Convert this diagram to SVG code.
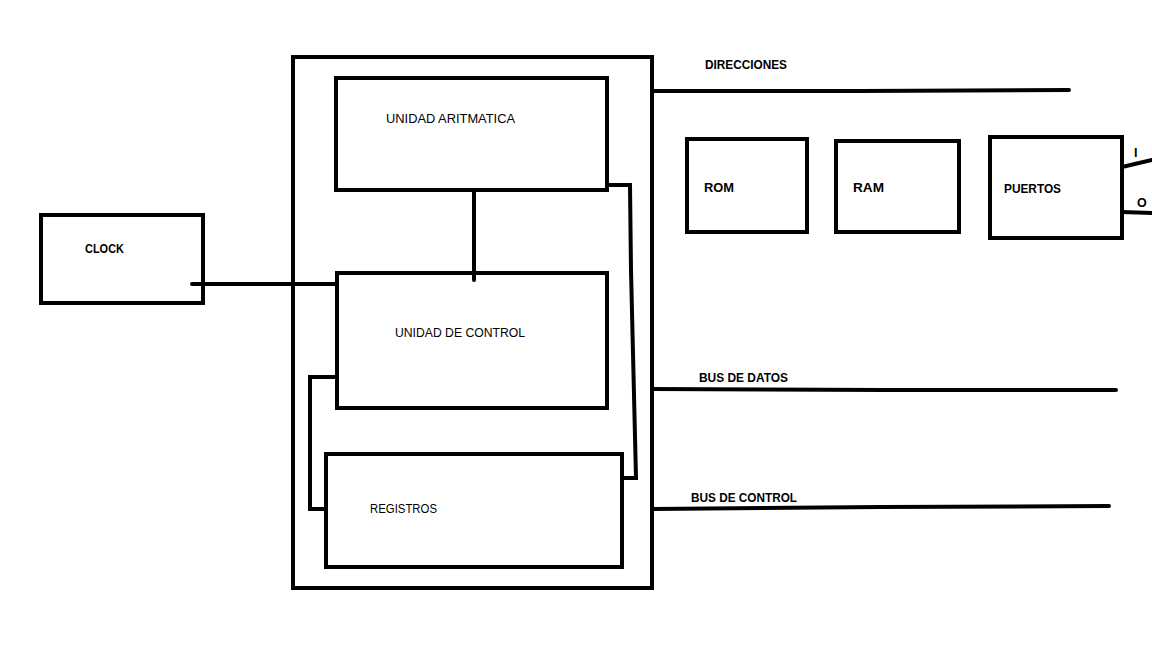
<svg xmlns="http://www.w3.org/2000/svg" width="1152" height="648" viewBox="0 0 1152 648">
<style>
.box{fill:none;stroke:#000;stroke-width:4}
.ln{fill:none;stroke:#000;stroke-width:4;stroke-linecap:round;stroke-linejoin:miter}
.t{font-family:"Liberation Sans",Arial,sans-serif;font-size:12.5px;fill:#000}
.b{font-weight:bold}
</style>
<rect width="1152" height="648" fill="#fff"/>
<g id="cpu"><rect class="box" x="293" y="57" width="359" height="531"/></g>
<g id="alu"><rect class="box" x="336" y="78" width="271" height="112"/>
<text class="t" x="386" y="123" textLength="129" lengthAdjust="spacingAndGlyphs">UNIDAD ARITMATICA</text></g>
<g id="control"><rect class="box" x="337" y="273" width="270" height="135"/>
<text class="t" x="395" y="337" textLength="130" lengthAdjust="spacingAndGlyphs">UNIDAD DE CONTROL</text></g>
<g id="registros"><rect class="box" x="326" y="454" width="296" height="113"/>
<text class="t" x="370" y="513" textLength="67" lengthAdjust="spacingAndGlyphs">REGISTROS</text></g>
<g id="clock"><rect class="box" x="41" y="215" width="162" height="88"/>
<text class="t b" x="85" y="253" textLength="39" lengthAdjust="spacingAndGlyphs">CLOCK</text></g>
<g id="rom"><rect class="box" x="687" y="139" width="120" height="93"/>
<text class="t b" x="704" y="192" textLength="30" lengthAdjust="spacingAndGlyphs">ROM</text></g>
<g id="ram"><rect class="box" x="836" y="141" width="123" height="91"/>
<text class="t b" x="853" y="192" textLength="31" lengthAdjust="spacingAndGlyphs">RAM</text></g>
<g id="puertos"><rect class="box" x="990" y="137" width="132" height="101"/>
<text class="t b" x="1004" y="193" textLength="57" lengthAdjust="spacingAndGlyphs">PUERTOS</text></g>
<g id="labels">
<text class="t b" x="705" y="69" textLength="82" lengthAdjust="spacingAndGlyphs">DIRECCIONES</text>
<text class="t b" x="699" y="382" textLength="89" lengthAdjust="spacingAndGlyphs">BUS DE DATOS</text>
<text class="t b" x="691" y="502" textLength="106" lengthAdjust="spacingAndGlyphs">BUS DE CONTROL</text>
<text class="t b" x="1134" y="157">I</text>
<text class="t b" x="1137" y="207">O</text>
</g>
<g id="connectors">
<path class="ln" d="M474 190 L474 280"/>
<path class="ln" d="M192 284 L337 284"/>
<path class="ln" d="M607 185 L630 185 L631 270 L636 478 L622 478"/>
<path class="ln" d="M337 377 L310 377 L310 509 L326 509"/>
<path class="ln" d="M652 91 L860 91 L1069 90"/>
<path class="ln" d="M652 389 L885 390 L1116 390"/>
<path class="ln" d="M652 509 L880 507 L1109 506"/>
<path class="ln" d="M1122 167 L1152 160"/>
<path class="ln" d="M1122 212 L1152 213"/>
</g>
</svg>
